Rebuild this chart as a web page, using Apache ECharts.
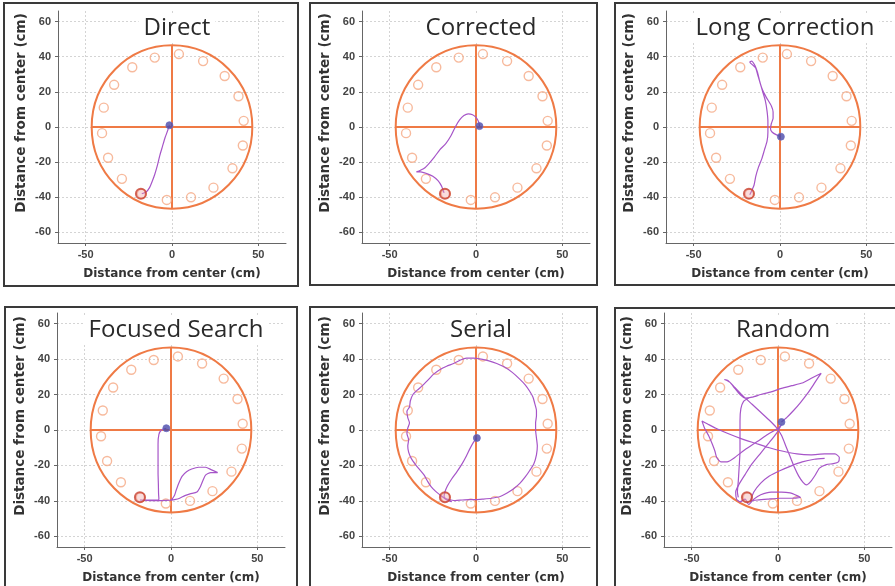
<!DOCTYPE html>
<html><head><meta charset="utf-8">
<script src="https://cdn.jsdelivr.net/npm/echarts@6/dist/echarts.min.js"></script>
<style>html,body{margin:0;padding:0;background:#fff}#c{width:895px;height:586px}</style>
</head><body><div id="c"></div>
<script>
// ---------------- DATA ----------------
const panelTitles = ['Direct', 'Corrected', 'Long Correction', 'Focused Search', 'Serial', 'Random'];
const axisName = 'Distance from center (cm)';
const axisRange = [-66, 66];
const xTickValues = [-50, 0, 50];
const yTickValues = [-60, -40, -20, 0, 20, 40, 60];
const arenaRadius = 46.5;
const targets = [[4,41.5],[18,37.5],[30.5,29],[38.5,17.5],[41.5,3.5],[41,-10.5],[35,-23.5],[24,-34.5],[11,-40],[-3,-41.5],[-17.5,-38],[-29,-29.5],[-37,-17.5],[-40.5,-3.5],[-39.5,11],[-33.5,24],[-23,34],[-10,39.5]];
const goal = [[-18, -38]];
const starts = [[-1.5,1],[2,0.5],[0.5,-5.5],[-2.7,1],[0.5,-4.5],[2,4.5]];

const pathDirect = [[-1.5,1],[-2.5,-2],[-4,-6],[-5.5,-11],[-7,-16],[-8.5,-22],[-10,-27],[-11.5,-31],[-13,-34.5],[-15,-37],[-17.5,-38]];
const pathCorrected = [[2,0.5],[1.5,3],[0,5.5],[-2,7],[-4.5,7.5],[-7,6.5],[-9.5,4],[-12,0],[-14.5,-5],[-17.5,-9.5],[-21,-13],[-24,-17],[-27,-20.5],[-30,-23.5],[-33,-25],[-34.5,-25.5],[-32,-25.5],[-28.5,-26.5],[-25,-28],[-22,-30.5],[-20,-33.5],[-19,-36],[-18.5,-37.5]];
const pathLong = [[0.5,-5.5],[-2,-4.5],[-4.5,-3],[-5.5,-1],[-5,2],[-4,5],[-4,8.5],[-5,12],[-8,17],[-10.5,22],[-12,27],[-13,31],[-14.5,35],[-16.5,37.5],[-17.5,37],[-15.5,35],[-14,33.5],[-13,30],[-11.5,25],[-10,20],[-8.5,15],[-7.5,9],[-7,3],[-7,-3],[-7.5,-8],[-9,-13],[-10.5,-18],[-12.5,-23],[-14,-28],[-15,-33],[-16.5,-36.5],[-17.5,-38.5]];
const pathFocused = [[-2.7,1],[-5.5,0],[-7,-2.5],[-7.5,-8],[-7.5,-16],[-7.5,-24],[-7.3,-31],[-7.2,-36],[-7,-39],[-10,-39.5],[-14,-39.5],[-18,-39.5],[-14,-39.7],[-8,-39.8],[-3,-39.7],[0,-39.5],[2,-37],[3,-34],[4.5,-30],[6.5,-26],[9,-23.5],[12,-22],[16,-21],[20,-21],[23.5,-22.5],[27,-24],[23,-24],[20,-25.5],[18.5,-28.5],[17,-32],[15,-35],[11,-36],[8,-37],[5,-38.5],[2,-39.3],[0,-39.6]];
const pathSerial = [[0.5,-4.5],[-1.5,-7],[-3.5,-10.5],[-5.5,-14.5],[-8,-19],[-11,-23.5],[-14,-27.5],[-16.5,-31.5],[-18,-35],[-18.5,-37.5],[-17,-39],[-14.5,-39.5],[-12,-39.8],[-8,-39.5],[-4,-39.3],[0,-39.3],[4,-39],[9,-38.5],[14,-37.5],[18,-35.5],[22,-33],[25.5,-30],[28.5,-26.5],[31,-23],[33.5,-19],[35,-14],[35.5,-9],[35,-4.5],[34.5,0],[34.5,4],[35,8],[35,11],[34,15],[33,18.5],[31,22],[28.5,25.5],[25,29],[21,32.5],[16.5,35.5],[12,37.5],[7.5,39],[3,40],[-1.5,40.5],[-5.5,40.5],[-9,39.5],[-13,37.5],[-17,36],[-21,34],[-24.5,31.5],[-28,28],[-31,25],[-34,22.5],[-36.5,20],[-38,16.5],[-38.5,13],[-40,10.5],[-39.5,7],[-38.5,4],[-39.5,1],[-40,-2],[-39,-5.5],[-39.5,-9],[-39,-12.5],[-37.5,-16],[-35,-19.5],[-32.5,-22.5],[-30,-25.5],[-28,-29],[-26,-32],[-23.5,-34.5],[-21,-36.5],[-19,-38],[-17,-39.5],[-15.5,-40],[-14,-40.5]];
const pathRandomA = [[2,4.5],[5,7],[9,11],[13,15.5],[17,20.5],[20.5,25.5],[23.5,30],[25,32],[23,31],[19,29],[14,26.5],[8,25],[2,23.5],[-4,21.5],[-10,20],[-15,18.5],[-19,18],[-22,20],[-25,23.5],[-28,27],[-31,28.5],[-29,28],
  [-25,24],[-20,19],[-15,14.5],[-10,10],[-5,5.5],[-1,1.5],[2,-3],[4.5,-9],[7,-15],[9.5,-21],[12,-26],[14.5,-29.5],[16.5,-31],
  [19,-29],[21.5,-25.5],[24,-21.5],[28,-19.5],[32,-19],[35,-18],[35.5,-15.5],[33,-13.5],[27,-13.5],[19,-14],[11,-13.5],[3,-12],[-5,-10],[-13,-7.5],[-21,-5],[-29,-2],[-36,1],[-41,3.5],[-44,5],
  [-42.5,1],[-40,-3.5],[-38,-8],[-36.5,-12],[-35.5,-15.5],[-33,-18],[-29.5,-18],[-25,-15.5],[-19,-11],[-12,-6.5],[-6,-2.5],[0,1],[2,3],
  [-1,-2],[-5,-7],[-10,-13],[-15,-19],[-19,-25],[-22.5,-30.5],[-24.5,-35],[-24,-39],[-22,-40.5],
  [-19,-39],[-17,-42],[-14,-39],[-10,-36.5],[-4,-35],[2,-35],[7,-35.5],[11,-37],[13,-38],[8,-38.5],[1,-38.5],[-6,-39],[-12,-39.5],[-16,-40],
  [-14,-35],[-10,-30],[-5,-26],[1,-23],[7,-20.5],[14,-18],[21,-16.5],[27,-16]];
const pathRandomB = [[-17,18],[-20,16],[-21.5,12],[-22,5],[-22,-3],[-22,-12],[-22.5,-21],[-23,-29],[-23.5,-35],[-23,-38]];

const panelPaths = [[pathDirect],[pathCorrected],[pathLong],[pathFocused],[pathSerial],[pathRandomA, pathRandomB]];

// ---------------- LAYOUT / STYLE ----------------
const grids = [
  {left:58, top:11, width:228, height:232},
  {left:362, top:11, width:228, height:232},
  {left:666, top:11, width:228, height:232},
  {left:57, top:313, width:228, height:234},
  {left:362, top:313, width:228, height:234},
  {left:664, top:313, width:228, height:234}
];
const boxes = [
  [4,3,294,283],[310,3,287,282],[615,3,292,282],
  [5,307,292,292],[310,307,287,292],[615,308,292,292]
];
const ORANGE = '#ef7a45';
const TARGET = '#f5a985';
const PURPLE = '#a655c8';
const tickFont = 'Liberation Sans, Arial, sans-serif';
const nameFont = 'DejaVu Sans, Verdana, sans-serif';

const chart = echarts.init(document.getElementById('c'), null, {renderer:'canvas'});

const xAxes = [], yAxes = [], series = [], titles = [];
grids.forEach((g, i) => {
  xAxes.push({
    gridIndex:i, type:'value', min:axisRange[0], max:axisRange[1],
    name: axisName, nameLocation:'middle', nameGap:25,
    nameTextStyle:{fontFamily:nameFont, fontWeight:'bold', fontSize:12, color:'#333'},
    axisLine:{show:true, onZero:false, lineStyle:{color:'#666', width:1}},
    axisTick:{show:true, length:3, customValues:xTickValues, lineStyle:{color:'#666'}},
    axisLabel:{customValues:xTickValues, margin:6, fontFamily:tickFont, fontWeight:'bold', fontSize:11, color:'#444'},
    splitLine:{show:true, lineStyle:{color:'#d4d4d4', type:[2,2], width:1}}
  });
  yAxes.push({
    gridIndex:i, type:'value', min:axisRange[0], max:axisRange[1],
    name: axisName, nameLocation:'middle', nameGap:30, nameRotate:90,
    nameTextStyle:{fontFamily:nameFont, fontWeight:'bold', fontSize:13.5, color:'#333', padding:[0,0,0,28]},
    axisLine:{show:true, onZero:false, lineStyle:{color:'#666', width:1}},
    axisTick:{show:true, length:3, customValues:yTickValues, lineStyle:{color:'#666'}},
    axisLabel:{customValues:yTickValues, margin:7, fontFamily:tickFont, fontWeight:'bold', fontSize:11, color:'#444'},
    splitLine:{show:true, lineStyle:{color:'#d4d4d4', type:[2,2], width:1}}
  });
  titles.push({
    text: panelTitles[i], left: g.left + g.width/2, top: g.top + 4, textAlign:'center',
    backgroundColor:'#fff', padding:[1,5],
    textStyle:{fontFamily:'Open Sans, sans-serif', fontWeight:'normal', fontSize:24, color:'#2a2a2a'}
  });
  series.push({
    type:'custom', xAxisIndex:i, yAxisIndex:i, data:[[0,0]], z:1, silent:true, clip:false,
    renderItem(params, api){
      const c = api.coord([0,0]);
      const ex = api.coord([arenaRadius,0]);
      const ey = api.coord([0,arenaRadius]);
      const rx = ex[0]-c[0], ry = c[1]-ey[1];
      return {type:'group', children:[
        {type:'ellipse', shape:{cx:c[0], cy:c[1], rx:rx, ry:ry}, style:{fill:null, stroke:ORANGE, lineWidth:2}},
        {type:'line', shape:{x1:c[0]-rx, y1:c[1], x2:c[0]+rx, y2:c[1]}, style:{stroke:ORANGE, lineWidth:2}},
        {type:'line', shape:{x1:c[0], y1:c[1]-ry, x2:c[0], y2:c[1]+ry}, style:{stroke:ORANGE, lineWidth:2}}
      ]};
    }
  });
  series.push({
    type:'scatter', xAxisIndex:i, yAxisIndex:i, data:targets, z:2, silent:true,
    symbol:'circle', symbolSize:9,
    itemStyle:{color:'rgba(0,0,0,0)', borderColor:TARGET, borderWidth:1.4}
  });
  panelPaths[i].forEach(p => series.push({
    type:'line', xAxisIndex:i, yAxisIndex:i, data:p, z:3, silent:true,
    showSymbol:false, smooth:0.2,
    lineStyle:{color:PURPLE, width:1.2}
  }));
  series.push({
    type:'scatter', xAxisIndex:i, yAxisIndex:i, data:goal, z:4, silent:true,
    symbol:'circle', symbolSize:10,
    itemStyle:{color:'rgba(240,170,170,0.5)', borderColor:'#c8402f', borderWidth:2}
  });
  series.push({
    type:'scatter', xAxisIndex:i, yAxisIndex:i, data:[starts[i]], z:5, silent:true,
    symbol:'circle', symbolSize:7,
    itemStyle:{color:'#4a4aa8', borderColor:'#6a6ac0', borderWidth:1}
  });
});

const graphics = boxes.map(b => ({
  type:'rect', shape:{x:b[0], y:b[1], width:b[2], height:b[3]}, silent:true, z:100,
  style:{fill:null, stroke:'#3a3a3a', lineWidth:2}
}));

chart.setOption({
  animation:false,
  backgroundColor:'#fff',
  title: titles,
  grid: grids,
  xAxis: xAxes,
  yAxis: yAxes,
  series: series,
  graphic: graphics
});
</script></body></html>
